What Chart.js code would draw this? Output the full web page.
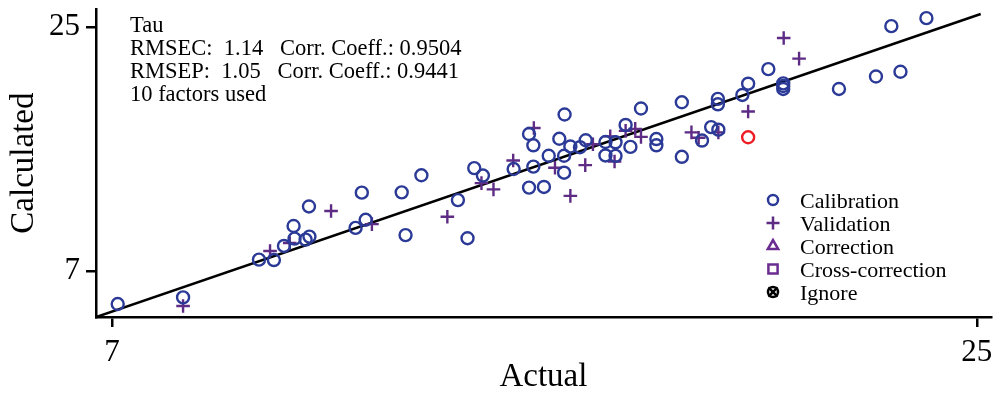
<!DOCTYPE html>
<html>
<head>
<meta charset="utf-8">
<script src="https://cdn.jsdelivr.net/npm/chart.js@4.4.0/dist/chart.umd.min.js"></script>
<style>
  html, body { margin: 0; padding: 0; background: #fff; }
</style>
</head>
<body>
<canvas id="tauChart" width="1000" height="399"></canvas>
<script>
// values (actual vs calculated)
const calibX = [7.12, 8.48, 10.06, 10.37, 10.58, 10.78, 10.80, 11.03, 11.11, 11.10, 12.07, 12.28, 12.20, 13.03, 13.11, 13.44, 14.20, 14.40, 14.54, 14.72,
  15.36, 15.68, 15.77, 15.77, 15.68, 15.99, 16.09, 16.31, 16.42, 16.41, 16.41, 16.54, 16.74, 16.86, 17.27, 17.27, 17.48, 17.48, 17.69, 17.79,
  18.01, 18.33, 18.33, 18.86, 18.86, 19.28, 19.47, 19.62, 19.61, 19.61, 20.12, 20.24, 20.66, 20.97, 20.97, 20.97, 22.13, 22.90, 23.41, 23.22, 23.95];
const calibY = [4.59, 5.08, 7.86, 7.83, 8.87, 10.34, 9.41, 9.34, 9.56, 11.78, 10.20, 10.80, 12.80, 12.82, 9.67, 14.08, 12.25, 9.44, 14.61, 14.06,
  14.54, 17.12, 16.29, 14.72, 13.17, 13.22, 15.52, 16.77, 18.56, 15.52, 14.27, 16.20, 16.15, 16.66, 16.53, 15.54, 16.51, 15.51, 17.79, 16.17,
  19.00, 16.75, 16.29, 19.46, 15.44, 16.64, 17.63, 17.44, 19.71, 19.31, 20.00, 20.83, 21.90, 20.85, 20.66, 20.44, 20.44, 21.36, 21.71, 25.07, 25.66];
const validX = [8.48, 10.29, 10.70, 11.56, 12.41, 13.98, 14.69, 14.94, 15.35, 15.78, 16.22, 16.54, 16.85, 17.01, 17.37, 17.46, 17.69, 17.89, 18.01,
  19.06, 19.21, 19.62, 20.24, 20.98, 21.30];
const validY = [4.44, 8.50, 9.09, 11.45, 10.48, 11.02, 13.50, 13.04, 15.17, 17.56, 14.63, 12.56, 14.83, 16.37, 16.95, 15.09, 17.35, 17.50, 16.91,
  17.24, 16.84, 17.24, 18.78, 24.20, 22.68];
const flaggedX = [20.24];
const flaggedY = [16.88];
const fitX = [6.67, 25.08];
const fitY = [3.63, 25.97];
const tickValues = [7, 25];

const infoLines = ['Tau', 'RMSEC:  1.14   Corr. Coeff.: 0.9504', 'RMSEP:  1.05   Corr. Coeff.: 0.9441', '10 factors used'];
const legendNames = ['Calibration', 'Validation', 'Correction', 'Cross-correction', 'Ignore'];

const SERIF = "'Liberation Serif', 'Times New Roman', serif";
const BLUE = '#2b3a97';
const PURPLE = '#5e2b85';

const toPoints = (xs, ys) => xs.map((x, i) => ({ x: x, y: ys[i] }));

// legend marker styles, same order as legendNames
const legendMarks = [
  { style: 'circle', color: BLUE, r: 5 },
  { style: 'cross', color: PURPLE, r: 6.5 },
  { style: 'triangle', color: '#6b2c91', r: 6 },
  { style: 'rect', color: '#6b2c91', r: 6.5 },
  { style: 'ignore', color: '#000', r: 5 }
];

const overlayText = {
  id: 'overlayText',
  afterDraw(chart) {
    const ctx = chart.ctx;
    ctx.save();
    ctx.fillStyle = '#000';
    ctx.font = '22.5px ' + SERIF;
    ctx.textAlign = 'left';
    ctx.textBaseline = 'alphabetic';
    infoLines.forEach((t, i) => ctx.fillText(t, 130, 32 + i * 23));

    ctx.font = '22px ' + SERIF;
    legendNames.forEach((name, i) => {
      const cy = 200 + i * 23;
      const m = legendMarks[i];
      ctx.fillStyle = '#000';
      ctx.fillText(name, 800, cy + 8);
      ctx.strokeStyle = m.color;
      ctx.fillStyle = 'rgba(0,0,0,0)';
      ctx.lineWidth = 2.5;
      if (m.style === 'ignore') {
        Chart.helpers.drawPoint(ctx, { pointStyle: 'circle', radius: m.r, rotation: 0, borderWidth: 2.5 }, 773, cy);
        Chart.helpers.drawPoint(ctx, { pointStyle: 'crossRot', radius: m.r + 1.5, rotation: 0, borderWidth: 2.5 }, 773, cy);
      } else {
        Chart.helpers.drawPoint(ctx, { pointStyle: m.style, radius: m.r, rotation: 0, borderWidth: 2.5 }, 773, cy);
      }
    });
    ctx.restore();
  }
};

const ctx = document.getElementById('tauChart').getContext('2d');

const axisCommon = {
  type: 'linear',
  afterBuildTicks: s => { s.ticks = tickValues.map(v => ({ value: v })); },
  border: { display: true, color: '#000', width: 2.5 },
  grid: { drawOnChartArea: false, drawTicks: true, tickLength: 10, color: '#000', lineWidth: 2.5 }
};

const tauChart = new Chart(ctx, {
  type: 'scatter',
  data: {
    datasets: [
      {
        label: 'Calibration',
        data: toPoints(calibX, calibY),
        pointStyle: 'circle',
        pointRadius: 6,
        borderWidth: 2.4,
        borderColor: BLUE,
        backgroundColor: 'rgba(0,0,0,0)'
      },
      {
        label: 'Validation',
        data: toPoints(validX, validY),
        pointStyle: 'cross',
        pointRadius: 6.8,
        borderWidth: 2.4,
        borderColor: PURPLE,
        backgroundColor: 'rgba(0,0,0,0)'
      },
      {
        label: 'Flagged',
        data: toPoints(flaggedX, flaggedY),
        pointStyle: 'circle',
        pointRadius: 6,
        borderWidth: 2.4,
        borderColor: '#ee1d23',
        backgroundColor: 'rgba(0,0,0,0)'
      },
      {
        label: 'Fit',
        data: toPoints(fitX, fitY),
        showLine: true,
        pointRadius: 0,
        borderColor: '#000',
        borderWidth: 2.5,
        fill: false
      }
    ]
  },
  options: {
    responsive: false,
    animation: false,
    layout: { padding: { left: 0, top: 7, right: 7, bottom: 0 } },
    plugins: {
      legend: { display: false },
      tooltip: { enabled: false }
    },
    scales: {
      x: Object.assign({}, axisCommon, {
        min: 6.668,
        max: 25.29,
        afterFit: s => { s.height = 82; },
        ticks: { color: '#000', font: { family: SERIF, size: 31 }, padding: 7, maxRotation: 0, autoSkip: false },
        title: { display: true, text: 'Actual', color: '#000', font: { family: SERIF, size: 33 }, padding: { top: 0, bottom: 2 } }
      }),
      y: Object.assign({}, axisCommon, {
        min: 3.634,
        max: 26.32,
        afterFit: s => { s.width = 96; },
        ticks: { color: '#000', font: { family: SERIF, size: 31, lineHeight: 0.02 }, padding: 6, autoSkip: false },
        title: { display: true, text: 'Calculated', color: '#000', font: { family: SERIF, size: 33 }, padding: { top: 5, bottom: 0 } }
      })
    }
  },
  plugins: [overlayText]
});
</script>
</body>
</html>
